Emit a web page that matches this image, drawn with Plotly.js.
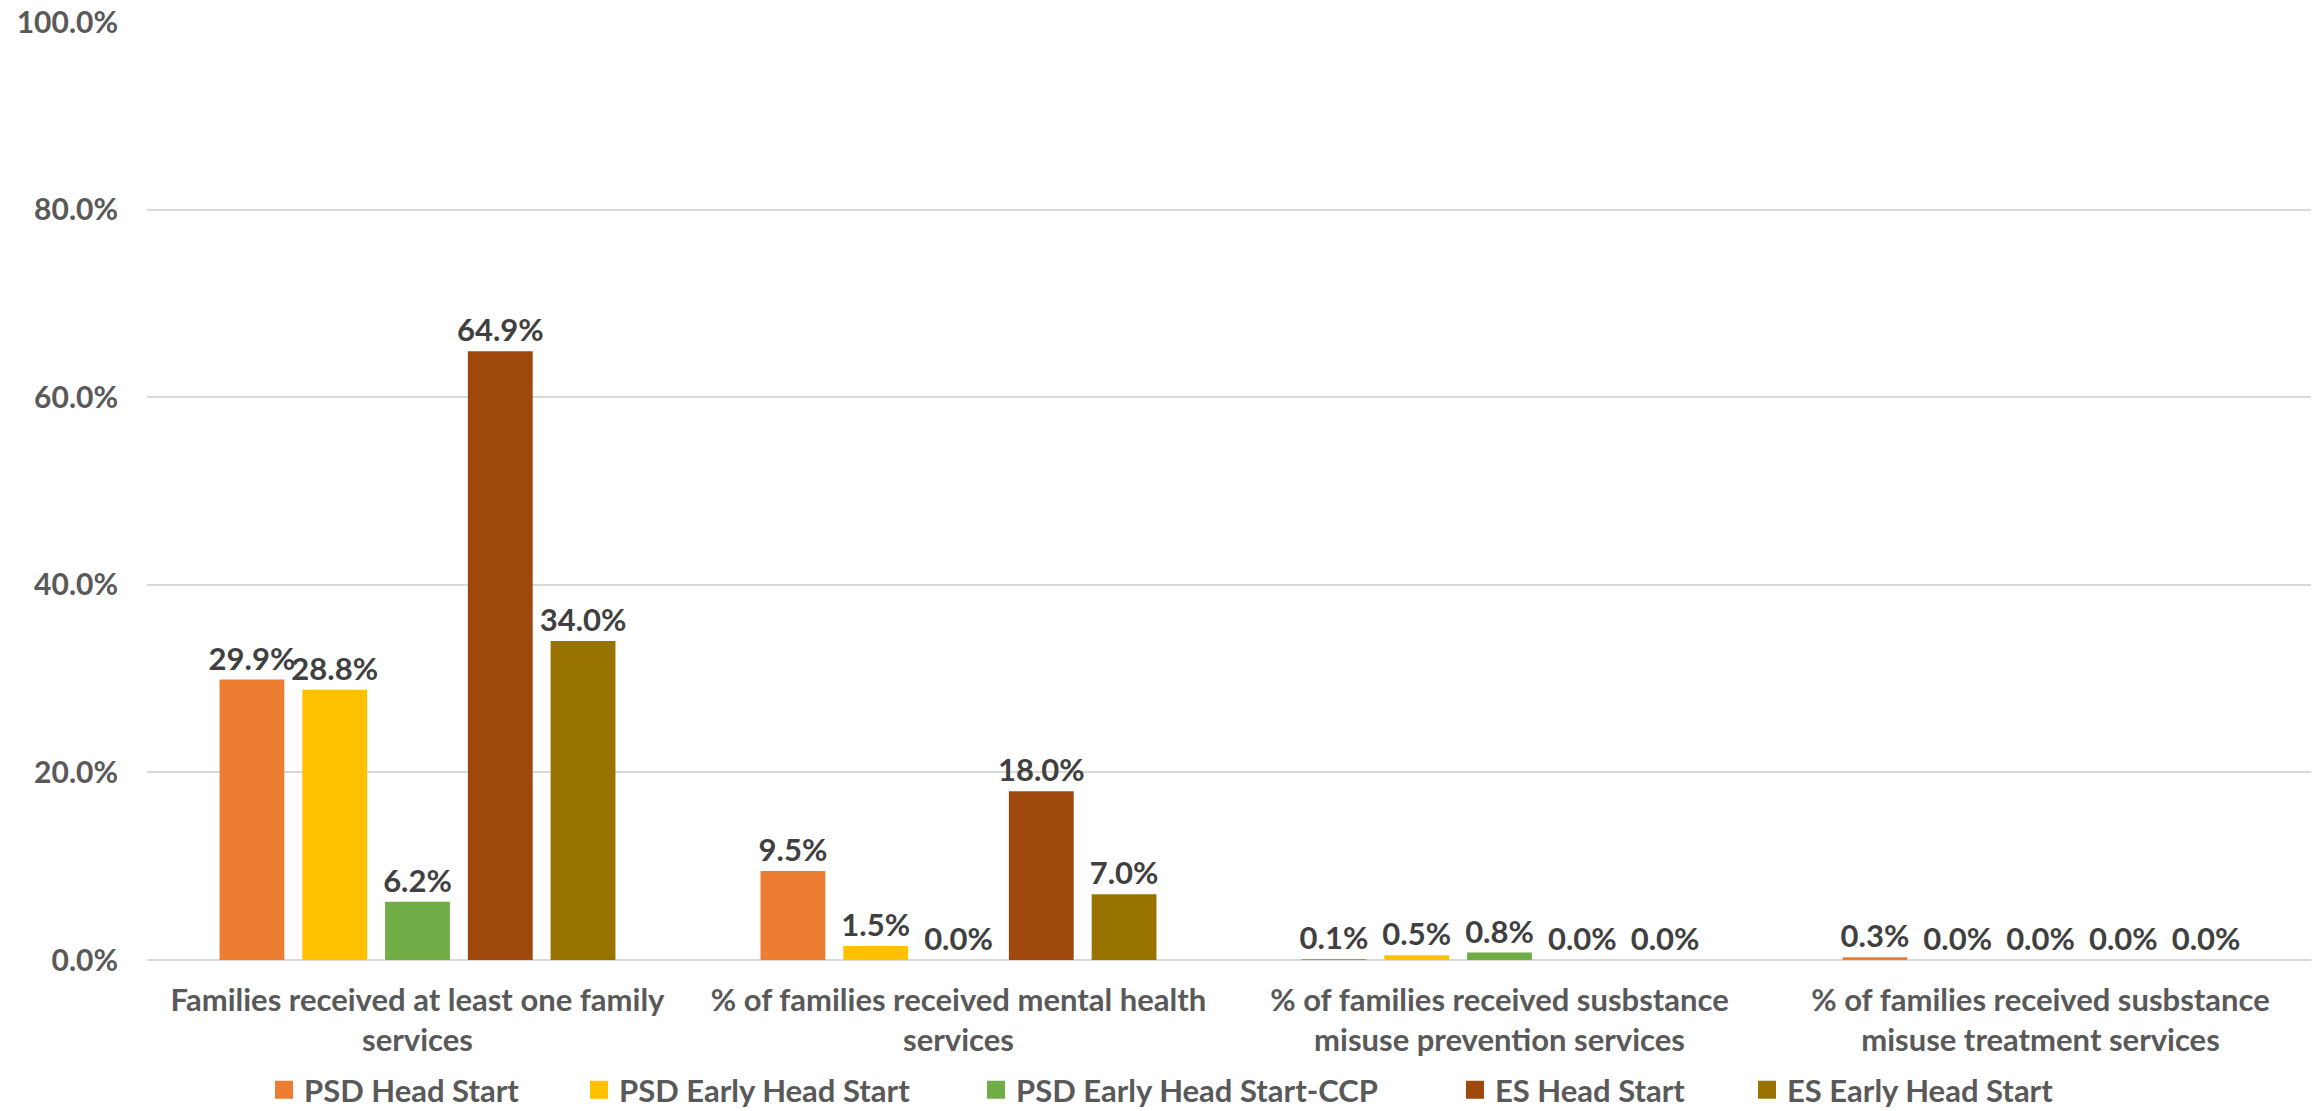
<!DOCTYPE html>
<html>
<head>
<meta charset="utf-8">
<script src="https://cdn.plot.ly/plotly-3.0.1.min.js"></script>
<style>
  html, body { margin: 0; padding: 0; background: #ffffff; }
  #chart { width: 2321px; height: 1111px; }
</style>
</head>
<body>
<div id="chart"></div>
<script>
// Service categories (x axis)
const categories = [
  "Families received at least one family<br>services",
  "% of families received mental health<br>services",
  "% of families received susbstance<br>misuse prevention services",
  "% of families received susbstance<br>misuse treatment services"
];

// Program series names
const seriesNames = [
  "PSD Head Start",
  "PSD Early Head Start",
  "PSD Early Head Start-CCP",
  "ES Head Start",
  "ES Early Head Start"
];

// Percent of families per category, one array per program
const psdHeadStart      = [29.9, 9.5, 0.1, 0.3];
const psdEarlyHeadStart = [28.8, 1.5, 0.5, 0.0];
const psdEhsCcp         = [6.2, 0.0, 0.8, 0.0];
const esHeadStart       = [64.9, 18.0, 0.0, 0.0];
const esEarlyHeadStart  = [34.0, 7.0, 0.0, 0.0];

// Y axis ticks and their labels
const yTickVals = [0, 20, 40, 60, 80, 100];
const yTickText = ["0.0%", "20.0%", "40.0%", "60.0%", "80.0%", "100.0%"];

const seriesValues = [psdHeadStart, psdEarlyHeadStart, psdEhsCcp, esHeadStart, esEarlyHeadStart];
const seriesColors = ["#ED7D31", "#FFC000", "#70AD47", "#9E480E", "#997300"];

const W = 2321, H = 1111;
const M = { l: 147, r: 10, t: 22, b: 151, autoexpand: false };
const PW = W - M.l - M.r;
const PH = H - M.t - M.b;
const pxToPaperX = px => (px - M.l) / PW;
const pxToPaperY = py => (H - M.b - py) / PH;

const FONT = "Lato, 'Open Sans', sans-serif";

// Legend swatch centres along the bottom row
const legendSwatchX = [284, 599, 996, 1475, 1767];
const legendRowY = 1090;

const traces = [];
seriesValues.forEach((vals, i) => {
  traces.push({
    type: "bar",
    name: seriesNames[i],
    x: categories,
    y: vals,
    marker: { color: seriesColors[i], line: { width: 0 } },
    texttemplate: "%{y:.1f}%",
    textposition: "outside",
    constraintext: "none",
    cliponaxis: false,
    textfont: { family: FONT, size: 31, color: "#404040", weight: 700 },
    showlegend: false,
    hoverinfo: "x+y+name"
  });
});

// One legend entry per series, each in its own legend box
seriesNames.forEach((name, i) => {
  traces.push({
    type: "scatter",
    mode: "markers",
    name: name,
    x: [null],
    y: [null],
    marker: { symbol: "square", size: 16, color: seriesColors[i], line: { color: seriesColors[i], width: 2 } },
    showlegend: true,
    legend: i === 0 ? "legend" : "legend" + (i + 1),
    hoverinfo: "skip"
  });
});

const legendBase = {
  orientation: "h",
  xanchor: "left",
  yanchor: "middle",
  bgcolor: "rgba(0,0,0,0)",
  borderwidth: 0,
  font: { family: FONT, size: 31, color: "#595959", weight: 700 },
  itemclick: false,
  itemdoubleclick: false
};

const layout = {
  width: W,
  height: H,
  margin: M,
  paper_bgcolor: "#ffffff",
  plot_bgcolor: "#ffffff",
  barmode: "group",
  bargap: 0.235,
  bargroupgap: 0.217,
  font: { family: FONT, color: "#595959" },
  xaxis: {
    type: "category",
    showgrid: false,
    showline: false,
    zeroline: false,
    ticks: "",
    tickfont: { family: FONT, size: 31, color: "#595959", weight: 700 },
    ticklabelstandoff: 19,
    automargin: false,
    fixedrange: true
  },
  yaxis: {
    range: [0, 100],
    tickmode: "array",
    tickvals: yTickVals,
    ticktext: yTickText,
    showgrid: true,
    gridcolor: "#d9d9d9",
    gridwidth: 2,
    zeroline: true,
    zerolinecolor: "#d9d9d9",
    zerolinewidth: 2,
    showline: false,
    ticks: "",
    tickfont: { family: FONT, size: 30, color: "#595959", weight: 700 },
    ticklabelstandoff: 28,
    automargin: false,
    fixedrange: true
  }
};

legendSwatchX.forEach((cx, i) => {
  const key = i === 0 ? "legend" : "legend" + (i + 1);
  layout[key] = Object.assign({}, legendBase, {
    x: pxToPaperX(cx - 20),
    y: pxToPaperY(legendRowY)
  });
});

Plotly.newPlot("chart", traces, layout, { staticPlot: true, displayModeBar: false });
</script>
</body>
</html>
